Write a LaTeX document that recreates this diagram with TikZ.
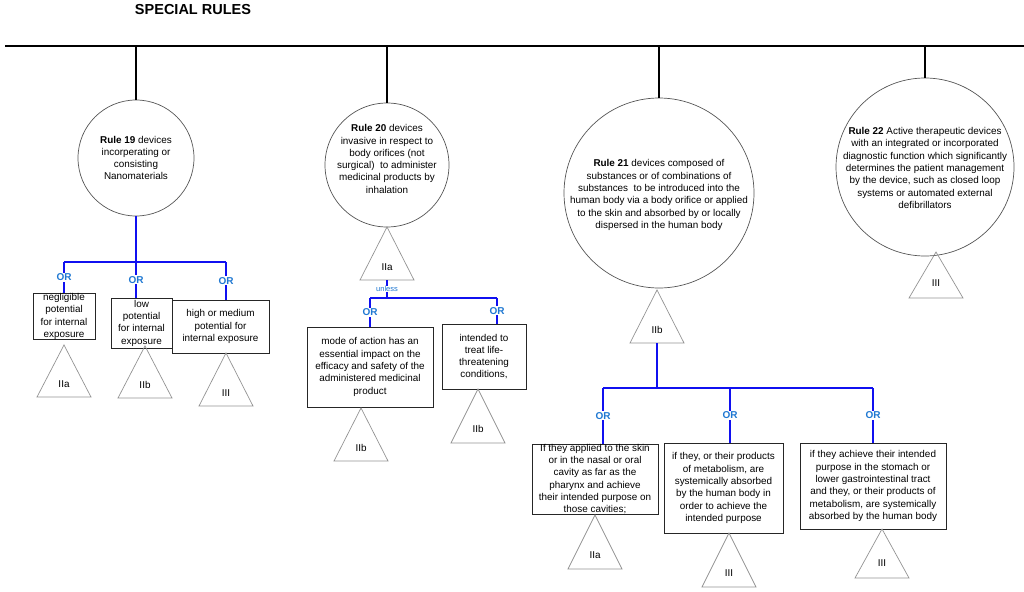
\documentclass[tikz,border=0pt]{standalone}
\usepackage{fontspec}
\setmainfont{Liberation Sans}
\usepackage{xcolor}
\usepackage{tikz}
\usetikzlibrary{positioning}
\definecolor{RuleBlue}{HTML}{1010F0}
\definecolor{OrBlue}{HTML}{1F78D2}
\definecolor{EdgeGray}{HTML}{555555}

\begin{document}
\begin{tikzpicture}[x=1pt, y=-1pt, every node/.style={font=\fontsize{9.9}{12.3}\selectfont}]
    \tikzstyle{rule}=[draw=EdgeGray, circle, inner sep=0pt, line width=0.7pt]
    \tikzstyle{ruletext}=[align=center, inner sep=0pt]
    \tikzstyle{crit}=[draw=black!85, align=center, inner sep=0pt, line width=0.8pt]
    \tikzstyle{tri}=[draw=gray!85, line width=0.7pt, line join=miter]
    \tikzstyle{trilab}=[inner sep=0pt]
    \tikzstyle{trunk}=[line width=2.2pt, black]
    \tikzstyle{orline}=[line width=2.2pt, color=RuleBlue]
    \tikzstyle{orlab}=[fill=white, text=OrBlue, inner sep=1pt,
                       font=\fontsize{10}{12}\selectfont\bfseries]
    \tikzstyle{unlesslab}=[fill=white, text=OrBlue, inner sep=0.5pt,
                       font=\fontsize{7.5}{9}\selectfont]

    \useasboundingbox (0,0) rectangle (1024,591);

    \node[font=\fontsize{14.5}{16}\selectfont\bfseries] (title) at (193,10) {SPECIAL RULES};
    \coordinate (busL) at (5,46);
    \coordinate (busR) at (1024,46);
    \draw[trunk] (busL) -- (busR);

    % rule circles
    \node[rule, minimum size=116pt] (c19) at (136,158) {};
    \node[rule, minimum size=124pt] (c20) at (387,165) {};
    \node[rule, minimum size=190pt] (c21) at (659,193) {};
    \node[rule, minimum size=178pt] (c22) at (925,167) {};

    \node[ruletext] (r19) at (136,158) {\textbf{Rule 19} devices\\ incorperating or\\ consisting\\ Nanomaterials};
    \node[ruletext] (r20) at (387,159) {\textbf{Rule 20} devices\\ invasive in respect to\\ body orifices (not\\ surgical)\ \ to administer\\ medicinal products by\\ inhalation};
    \node[ruletext] (r21) at (659,195) {\textbf{Rule 21} devices composed of\\ substances or of combinations of\\ substances\ \ to be introduced into the\\ human body via a body orifice or applied\\ to the skin and absorbed by or locally\\ dispersed in the human body};
    \node[ruletext] (r22) at (925,168) {\textbf{Rule 22} Active therapeutic devices\\ with an integrated or incorporated\\ diagnostic function which significantly\\ determines the patient management\\ by the device, such as closed loop\\ systems or automated external\\ defibrillators};

    \draw[trunk] (c19.north |- busL) -- (c19.north);
    \draw[trunk] (c20.north |- busL) -- (c20.north);
    \draw[trunk] (c21.north |- busL) -- (c21.north);
    \draw[trunk] (c22.north |- busL) -- (c22.north);

    % criteria boxes
    \node[crit, minimum width=62pt, minimum height=45pt] (b19a) at (64,316.5) {negligible\\ potential\\ for internal\\ exposure};
    \node[crit, minimum width=61pt, minimum height=50pt] (b19b) at (141.5,323) {low\\ potential\\ for internal\\ exposure};
    \node[crit, minimum width=97pt, minimum height=53pt] (b19c) at (220.5,326.5) {high or medium\\ potential for\\ internal exposure};
    \node[crit, minimum width=126pt, minimum height=80pt] (b20a) at (370,367) {mode of action has an\\ essential impact on the\\ efficacy and safety of the\\ administered medicinal\\ product};
    \node[crit, minimum width=84pt, minimum height=65pt] (b20b) at (484,356.5) {intended to\\ treat life-\\ threatening\\ conditions,};
    \node[crit, minimum width=126pt, minimum height=70pt] (b21a) at (595,479) {If they applied to the skin\\ or in the nasal or oral\\ cavity as far as the\\ pharynx and achieve\\ their intended purpose on\\ those cavities;};
    \node[crit, minimum width=119pt, minimum height=90pt] (b21b) at (723.5,488) {if they, or their products\\ of metabolism, are\\ systemically absorbed\\ by the human body in\\ order to achieve the\\ intended purpose};
    \node[crit, minimum width=146pt, minimum height=86pt] (b21c) at (873,486) {if they achieve their intended\\ purpose in the stomach or\\ lower gastrointestinal tract\\ and they, or their products of\\ metabolism, are systemically\\ absorbed by the human body};

    % class triangles
    \coordinate (t19a) at (64,345);
    \coordinate (t19b) at (145,346);
    \coordinate (t19c) at (226,353);
    \coordinate (t20) at (387,227);
    \coordinate (t20a) at (361,408);
    \coordinate (t20b) at (478,389);
    \coordinate (t21) at (657,290);
    \coordinate (t21a) at (595,515);
    \coordinate (t21b) at (729,533);
    \coordinate (t21c) at (882,529);
    \coordinate (t22) at (936,252);

    \draw[tri] (t19a) -- ++(27,52) -- ++(-54,0) -- cycle;
    \draw[tri] (t19b) -- ++(27,52) -- ++(-54,0) -- cycle;
    \draw[tri] (t19c) -- ++(27,53) -- ++(-54,0) -- cycle;
    \draw[tri] (t20) -- ++(27,53) -- ++(-54,0) -- cycle;
    \draw[tri] (t20a) -- ++(27,53) -- ++(-54,0) -- cycle;
    \draw[tri] (t20b) -- ++(27,54) -- ++(-54,0) -- cycle;
    \draw[tri] (t21) -- ++(27,53) -- ++(-54,0) -- cycle;
    \draw[tri] (t21a) -- ++(27,54) -- ++(-54,0) -- cycle;
    \draw[tri] (t21b) -- ++(27,54) -- ++(-54,0) -- cycle;
    \draw[tri] (t21c) -- ++(27,49) -- ++(-54,0) -- cycle;
    \draw[tri] (t22) -- ++(27,46) -- ++(-54,0) -- cycle;

    \node[trilab, below=39pt of t19a, anchor=center] (l19a) {IIa};
    \node[trilab, below=39pt of t19b, anchor=center] (l19b) {IIb};
    \node[trilab, below=40pt of t19c, anchor=center] (l19c) {III};
    \node[trilab, below=40pt of t20, anchor=center] (l20) {IIa};
    \node[trilab, below=40pt of t20a, anchor=center] (l20a) {IIb};
    \node[trilab, below=40pt of t20b, anchor=center] (l20b) {IIb};
    \node[trilab, below=40pt of t21, anchor=center] (l21) {IIb};
    \node[trilab, below=40pt of t21a, anchor=center] (l21a) {IIa};
    \node[trilab, below=40pt of t21b, anchor=center] (l21b) {III};
    \node[trilab, below=34pt of t21c, anchor=center] (l21c) {III};
    \node[trilab, below=31pt of t22, anchor=center] (l22) {III};

    % rule 19 branches
    \coordinate (j19) at (136,262);
    \coordinate (j19a) at (64,262);
    \coordinate (j19c) at (226,262);
    \draw[orline] (c19.south) -- (j19);
    \draw[orline] (j19a) -- (j19c);
    \draw[orline] (j19a) -- node[orlab] (or19a) {OR} (j19a |- b19a.north);
    \draw[orline] (j19) -- node[orlab] (or19b) {OR} (j19 |- b19b.north);
    \draw[orline] (j19c) -- node[orlab] (or19c) {OR} (j19c |- b19c.north);

    % rule 20 branches
    \coordinate (t20s) at (387,280);
    \coordinate (j20) at (387,298);
    \coordinate (j20a) at (370,298);
    \coordinate (j20b) at (497,298);
    \draw[orline] (t20s) -- node[unlesslab] (unl) {unless} (j20);
    \draw[orline] (j20a) -- (j20b);
    \draw[orline] (j20a) -- node[orlab] (or20a) {OR} (j20a |- b20a.north);
    \draw[orline] (j20b) -- node[orlab] (or20b) {OR} (j20b |- b20b.north);

    % rule 21 branches
    \coordinate (t21s) at (657,343);
    \coordinate (j21) at (657,388);
    \coordinate (j21a) at (603,388);
    \coordinate (j21b) at (730,388);
    \coordinate (j21c) at (873,388);
    \draw[orline] (t21s) -- (j21);
    \draw[orline] (j21a) -- (j21c);
    \draw[orline] (j21a) -- node[orlab] (or21a) {OR} (j21a |- b21a.north);
    \draw[orline] (j21b) -- node[orlab] (or21b) {OR} (j21b |- b21b.north);
    \draw[orline] (j21c) -- node[orlab] (or21c) {OR} (j21c |- b21c.north);

  \end{tikzpicture}
\end{document}
